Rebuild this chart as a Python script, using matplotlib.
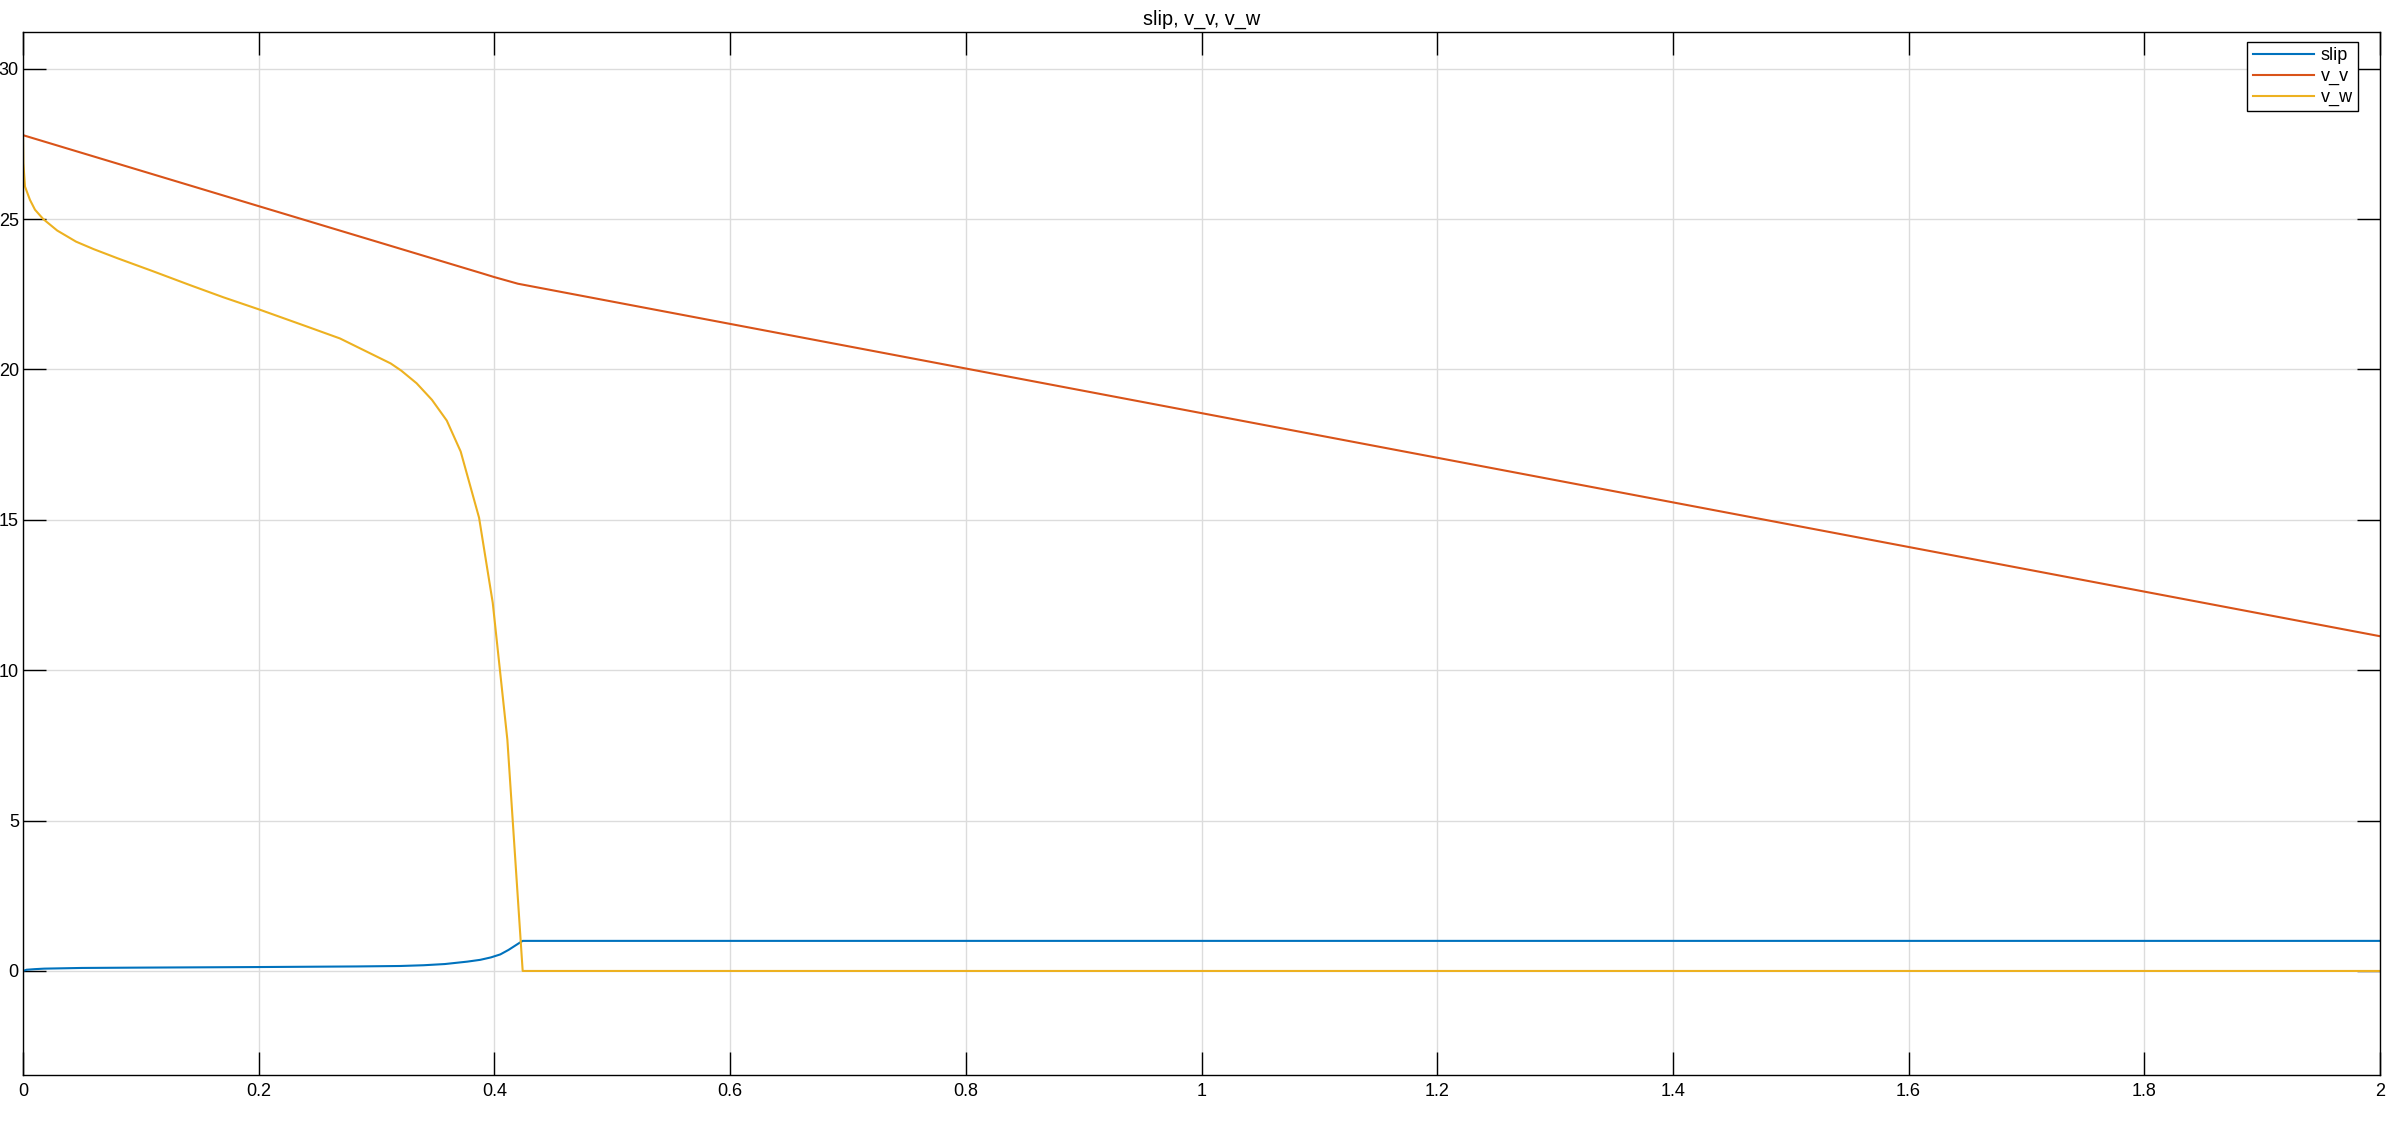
import matplotlib
matplotlib.use("Agg")
import matplotlib.pyplot as plt

# data
t_slip = [0.0, 0.003, 0.01, 0.018, 0.05, 0.094, 0.2, 0.283, 0.32, 0.34, 0.358,
          0.377, 0.388, 0.397, 0.405, 0.412, 0.4223, 0.424, 2.0]
slip = [0.0, 0.04, 0.06, 0.077, 0.10, 0.11, 0.13, 0.15, 0.165, 0.19, 0.23,
        0.31, 0.37, 0.45, 0.55, 0.70, 0.96, 1.0, 1.0]

t_vv = [0.0, 0.2, 0.39, 0.40, 0.41, 0.42, 2.0]
v_v = [27.79, 25.43, 23.19, 23.07, 22.96, 22.85, 11.13]

t_vw = [0.0, 0.0003, 0.0017, 0.0059, 0.0102, 0.0172, 0.029, 0.045, 0.06, 0.08,
        0.11, 0.142, 0.17, 0.2, 0.24, 0.269, 0.312, 0.321, 0.334, 0.347, 0.3596,
        0.3714, 0.387, 0.3986, 0.411, 0.4223, 0.424, 2.0]
v_w = [27.79, 26.86, 26.08, 25.64, 25.31, 25.0, 24.62, 24.25, 24.0, 23.7,
       23.27, 22.8, 22.4, 22.0, 21.44, 21.03, 20.2, 19.96, 19.54, 18.99, 18.3,
       17.27, 15.07, 12.24, 7.69, 1.0, 0.0, 0.0]

x_ticks = [0, 0.2, 0.4, 0.6, 0.8, 1, 1.2, 1.4, 1.6, 1.8, 2]
x_tick_labels = ["0", "0.2", "0.4", "0.6", "0.8", "1", "1.2", "1.4", "1.6", "1.8", "2"]
y_ticks = [0, 5, 10, 15, 20, 25, 30]

plt.rcParams["font.family"] = ["Liberation Sans", "DejaVu Sans"]

fig = plt.figure(figsize=(24, 11.31), dpi=100)
ax = fig.add_axes([0.00958, 0.0495, 0.98209, 0.9222])

ax.plot(t_slip, slip, color="#0072BD", lw=1.5, label="slip")
ax.plot(t_vv, v_v, color="#D95319", lw=1.5, label="v_v")
ax.plot(t_vw, v_w, color="#EDB120", lw=1.5, label="v_w")

ax.set_xlim(0, 2)
ax.set_ylim(-3.46, 31.22)
ax.set_xticks(x_ticks)
ax.set_xticklabels(x_tick_labels)
ax.set_yticks(y_ticks)
ax.grid(True, color="#dcdcdc", lw=1.0)
ax.set_axisbelow(True)
ax.tick_params(direction="in", length=16.5, width=1.0, top=True, right=True,
               labelsize=13, colors="black")
ax.tick_params(axis="x", pad=6)
ax.tick_params(axis="y", pad=3)
for s in ax.spines.values():
    s.set_linewidth(1.0)
    s.set_color("black")

ax.set_title("slip, v_v, v_w", fontsize=14.3, pad=5)

leg = ax.legend(loc="upper right", bbox_to_anchor=(0.9907, 0.9904), borderaxespad=0,
                fontsize=13, handlelength=3.4, handletextpad=0.35,
                labelspacing=0.2, borderpad=0.3, fancybox=False,
                framealpha=1, edgecolor="black")
leg.get_frame().set_linewidth(1.0)

fig.savefig("out.png", dpi=100)
